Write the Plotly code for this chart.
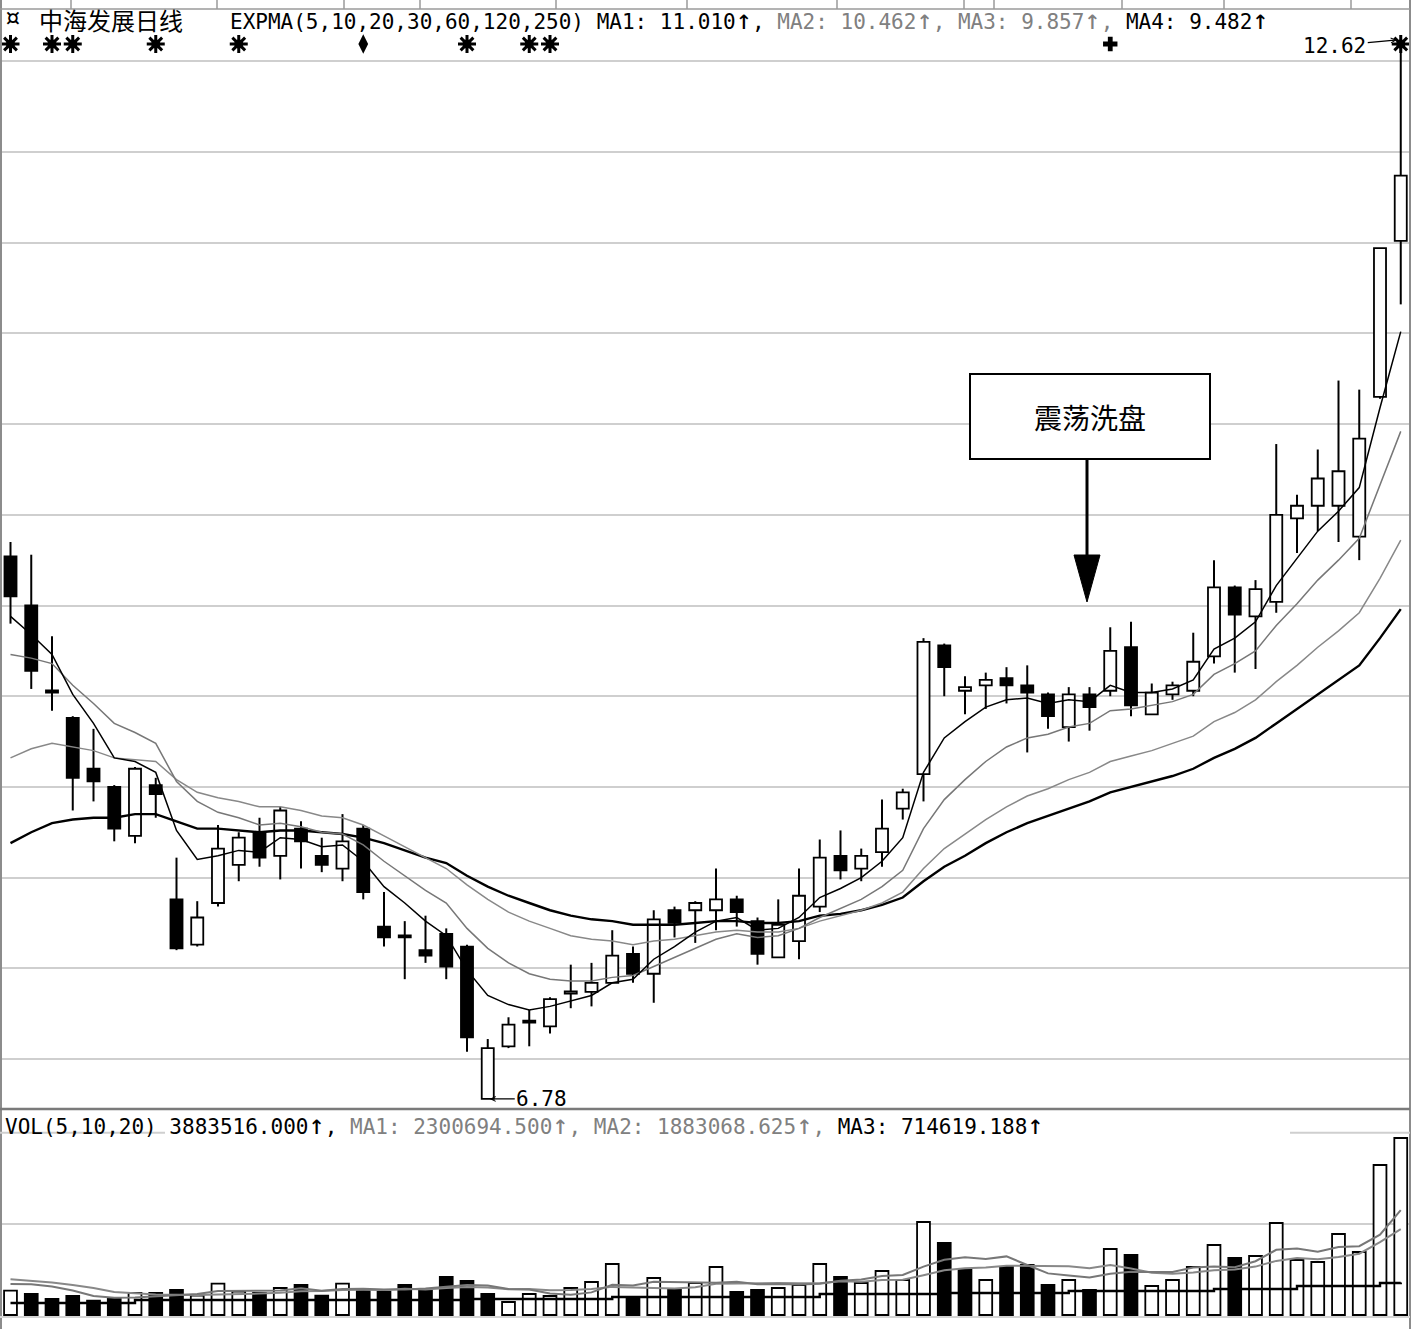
import plotly.graph_objects as go

# ---------------- data ----------------
opens = [9.77, 9.50, 9.03, 8.88, 8.60, 8.50, 8.23, 8.51, 7.88, 7.63,
         7.86, 8.07, 8.25, 8.12, 8.27, 8.12, 8.05, 8.27, 7.73, 7.68,
         7.60, 7.69, 7.62, 6.78, 7.07, 7.21, 7.18, 7.36, 7.37, 7.42,
         7.58, 7.47, 7.82, 7.82, 7.82, 7.88, 7.76, 7.56, 7.65, 7.84,
         8.12, 8.05, 8.14, 8.38, 8.57, 9.28, 9.03, 9.06, 9.10, 9.06,
         9.01, 8.83, 9.01, 9.03, 9.27, 8.90, 9.01, 9.03, 9.22, 9.60,
         9.44, 9.52, 9.98, 10.05, 10.05, 9.88, 10.65, 11.51]
highs = [9.85, 9.78, 9.33, 8.89, 8.82, 8.51, 8.61, 8.55, 8.11, 7.87,
         8.29, 8.25, 8.33, 8.39, 8.31, 8.22, 8.35, 8.29, 7.92, 7.76,
         7.79, 7.72, 7.63, 7.11, 7.23, 7.27, 7.34, 7.52, 7.53, 7.71,
         7.62, 7.82, 7.84, 7.87, 8.05, 7.90, 7.78, 7.88, 8.05, 8.21,
         8.26, 8.16, 8.43, 8.49, 9.32, 9.29, 9.11, 9.13, 9.16, 9.17,
         9.02, 9.05, 9.05, 9.38, 9.41, 9.07, 9.08, 9.35, 9.75, 9.61,
         9.64, 10.39, 10.11, 10.36, 10.74, 10.69, 11.47, 12.62]
lows = [9.40, 9.04, 8.92, 8.37, 8.42, 8.20, 8.19, 8.33, 7.60, 7.62,
        7.84, 7.98, 8.06, 7.99, 8.05, 8.03, 7.98, 7.88, 7.62, 7.44,
        7.53, 7.44, 7.04, 6.78, 7.06, 7.07, 7.14, 7.28, 7.29, 7.42,
        7.42, 7.31, 7.67, 7.64, 7.71, 7.73, 7.52, 7.56, 7.55, 7.81,
        7.99, 7.98, 8.06, 8.32, 8.42, 9.00, 8.90, 8.93, 8.96, 8.69,
        8.82, 8.75, 8.81, 9.00, 8.89, 8.90, 8.98, 9.00, 9.18, 9.13,
        9.15, 9.46, 9.79, 9.91, 9.85, 9.75, 10.64, 11.16]
closes = [9.55, 9.14, 9.02, 8.55, 8.53, 8.27, 8.60, 8.46, 7.61, 7.78,
          8.16, 8.22, 8.11, 8.37, 8.20, 8.07, 8.20, 7.92, 7.67, 7.67,
          7.57, 7.51, 7.12, 7.06, 7.19, 7.20, 7.33, 7.37, 7.42, 7.57,
          7.47, 7.77, 7.75, 7.86, 7.88, 7.81, 7.58, 7.74, 7.90, 8.11,
          8.04, 8.12, 8.27, 8.47, 9.30, 9.16, 9.05, 9.09, 9.06, 9.02,
          8.89, 9.01, 8.94, 9.25, 8.95, 9.02, 9.06, 9.19, 9.60, 9.45,
          9.59, 10.00, 10.05, 10.20, 10.24, 10.42, 11.47, 11.87]

expma5 = [9.44, 9.34, 9.23, 9.01, 8.85, 8.66, 8.64, 8.58, 8.26, 8.10,
          8.12, 8.15, 8.14, 8.22, 8.21, 8.17, 8.18, 8.09, 7.95, 7.86,
          7.76, 7.68, 7.49, 7.35, 7.30, 7.27, 7.29, 7.32, 7.35, 7.42,
          7.44, 7.55, 7.62, 7.70, 7.76, 7.78, 7.71, 7.72, 7.78, 7.89,
          7.94, 8.00, 8.09, 8.22, 8.58, 8.77, 8.86, 8.94, 8.98, 8.99,
          8.96, 8.98, 8.97, 9.06, 9.02, 9.02, 9.04, 9.09, 9.26, 9.32,
          9.41, 9.61, 9.76, 9.91, 10.02, 10.15, 10.59, 11.01]
expma10 = [9.23, 9.21, 9.18, 9.06, 8.96, 8.85, 8.80, 8.74, 8.53, 8.42,
           8.36, 8.33, 8.29, 8.30, 8.28, 8.25, 8.24, 8.18, 8.09, 8.01,
           7.93, 7.86, 7.72, 7.61, 7.53, 7.47, 7.44, 7.43, 7.43, 7.45,
           7.46, 7.51, 7.56, 7.61, 7.66, 7.69, 7.67, 7.68, 7.72, 7.78,
           7.83, 7.88, 7.95, 8.04, 8.27, 8.43, 8.54, 8.64, 8.72, 8.77,
           8.79, 8.83, 8.85, 8.92, 8.93, 8.95, 8.97, 9.01, 9.12, 9.18,
           9.25, 9.39, 9.51, 9.64, 9.75, 9.87, 10.16, 10.46]
expma20 = [8.66, 8.71, 8.74, 8.72, 8.70, 8.66, 8.65, 8.64, 8.54, 8.47,
           8.44, 8.42, 8.39, 8.39, 8.37, 8.34, 8.33, 8.29, 8.23, 8.17,
           8.11, 8.05, 7.96, 7.88, 7.81, 7.76, 7.72, 7.68, 7.66, 7.65,
           7.63, 7.65, 7.66, 7.68, 7.70, 7.71, 7.70, 7.70, 7.72, 7.76,
           7.79, 7.82, 7.86, 7.92, 8.05, 8.16, 8.24, 8.32, 8.39, 8.45,
           8.49, 8.54, 8.58, 8.64, 8.67, 8.70, 8.74, 8.78, 8.86, 8.91,
           8.98, 9.08, 9.17, 9.27, 9.36, 9.46, 9.65, 9.86]
expma30 = [8.19, 8.25, 8.30, 8.32, 8.33, 8.33, 8.35, 8.35, 8.31, 8.27,
           8.27, 8.26, 8.25, 8.26, 8.26, 8.25, 8.24, 8.22, 8.19, 8.15,
           8.11, 8.08, 8.01, 7.95, 7.90, 7.86, 7.82, 7.79, 7.77, 7.76,
           7.74, 7.74, 7.74, 7.75, 7.76, 7.76, 7.75, 7.75, 7.76, 7.79,
           7.80, 7.82, 7.85, 7.89, 7.98, 8.06, 8.12, 8.19, 8.25, 8.30,
           8.34, 8.38, 8.42, 8.47, 8.50, 8.53, 8.56, 8.60, 8.66, 8.71,
           8.77, 8.85, 8.93, 9.01, 9.09, 9.17, 9.32, 9.48]

# volume in units of 10,000 shares (万股)
volume_wan = [53.3, 46.1, 35.1, 41.7, 31.4, 35.1, 48.3, 48.3, 54.9, 42.3,
              68.7, 51.1, 48.3, 59.2, 65.8, 42.3, 68.7, 52.7, 51.1, 65.8,
              52.7, 83.4, 74.6, 46.1, 28.5, 46.1, 41.7, 59.2, 72.4, 111.9,
              39.5, 81.2, 57.0, 70.2, 105.3, 50.5, 54.9, 59.2, 65.8, 111.9,
              83.4, 70.2, 96.5, 76.8, 204.0, 158.0, 98.7, 76.8, 105.3, 109.7,
              65.8, 76.8, 54.9, 144.8, 131.6, 63.6, 76.8, 105.3, 153.6, 125.1,
              129.4, 201.8, 120.7, 116.3, 177.7, 138.2, 329.1, 388.35]
vol_up = [1, 0, 0, 0, 0, 0, 1, 0, 0, 1,
          1, 1, 0, 1, 0, 0, 1, 0, 0, 0,
          0, 0, 0, 0, 1, 1, 1, 1, 1, 1,
          0, 1, 0, 1, 1, 0, 0, 1, 1, 1,
          0, 1, 1, 1, 1, 0, 0, 1, 0, 0,
          0, 1, 0, 1, 0, 1, 1, 1, 1, 0,
          1, 1, 1, 1, 1, 1, 1, 1]
vol_ma1_wan = [68.0, 67.6, 62.5, 53.8, 41.5, 38.0, 38.4, 41.0, 43.7, 45.9,
               52.4, 53.1, 53.1, 54.0, 58.6, 53.3, 56.8, 57.7, 56.2, 56.2,
               58.1, 61.2, 65.6, 64.5, 57.0, 55.7, 47.4, 44.3, 49.6, 66.3,
               64.9, 72.8, 72.4, 72.0, 70.6, 72.8, 67.6, 68.0, 67.1, 68.5,
               75.0, 78.1, 85.6, 87.8, 106.2, 121.1, 126.8, 122.9, 128.6, 109.7,
               91.3, 86.9, 82.5, 90.4, 94.8, 94.3, 94.3, 104.4, 106.2, 104.9,
               118.0, 143.0, 146.1, 138.7, 149.2, 150.9, 176.4, 230.07]
vol_ma2_wan = [78.3, 74.6, 71.3, 65.8, 59.2, 50.5, 47.2, 45.0, 44.5, 43.7,
               45.2, 45.6, 47.0, 48.7, 52.2, 52.9, 55.1, 55.5, 55.1, 57.5,
               55.7, 59.0, 61.7, 60.3, 56.6, 57.0, 54.2, 54.9, 57.0, 61.7,
               60.3, 60.1, 58.4, 60.8, 68.5, 68.9, 70.2, 70.2, 69.5, 69.5,
               73.9, 72.8, 76.8, 77.4, 87.3, 98.1, 102.5, 104.2, 108.2, 107.9,
               106.2, 106.8, 102.7, 109.5, 102.2, 92.8, 90.6, 93.5, 98.3, 99.8,
               106.2, 118.7, 125.3, 122.4, 127.0, 134.5, 159.7, 188.31]
vol_ma3_wan = [26.3, 26.3, 26.3, 26.3, 26.3, 26.3, 32.9, 32.9, 32.9, 32.9,
               32.9, 32.9, 32.9, 32.9, 32.9, 32.9, 32.9, 32.9, 32.9, 32.9,
               32.9, 32.9, 35.1, 35.1, 35.1, 35.1, 35.1, 35.1, 35.1, 39.5,
               39.5, 39.5, 39.5, 39.5, 39.5, 39.5, 39.5, 39.5, 39.5, 46.1,
               46.1, 46.1, 46.1, 46.1, 46.1, 48.3, 48.3, 48.3, 48.3, 48.3,
               48.3, 52.7, 52.7, 52.7, 52.7, 52.7, 52.7, 52.7, 57.0, 57.0,
               57.0, 57.0, 63.6, 63.6, 63.6, 63.6, 70.2, 71.46]

star_signal_idx = [0, 2, 3, 7, 11, 22, 25, 26, 67]
diamond_signal_idx = [17]
cross_signal_idx = [53]
price_ticks = [7.0, 7.5, 8.0, 8.5, 9.0, 9.5, 10.0, 10.5, 11.0, 11.5, 12.0, 12.5]
vol_ticks = [200]

stock_title = "中海发展日线"
callout_text = "震荡洗盘"
low_label = "6.78"
high_label = "12.62"
low_idx = 23
high_idx = 67

# ---------------- layout geometry ----------------
W, H = 1415, 1329
MR = 5
PW = W - MR
STEP = 20.75
X0PX = 10.5
PRICE_PX = 181.4          # px per 1.0 of price
PRICE_REF, PRICE_REF_PX = 7.0, 1059
VOL_PX = 1 / 2.194        # px per 万股
VOL_ZERO_PX = 1315
PANEL_TOP, PANEL_SPLIT, PANEL_BOTTOM = 8, 1110, 1316


def xp(px):
    return px / PW


def yp(py):
    return 1 - py / H


def px_to_x(px):
    return (px - X0PX) / STEP


def py_to_price(py):
    return PRICE_REF + (PRICE_REF_PX - py) / PRICE_PX


GRID = "#cfcfcf"
MONO = "DejaVu Sans Mono, Liberation Mono, monospace"
CJK = "Noto Sans CJK SC, sans-serif"

n = len(closes)
idx = list(range(n))

fig = go.Figure()

# candle bodies
up_i = [i for i in idx if closes[i] > opens[i]]
dn_i = [i for i in idx if closes[i] <= opens[i]]
MIN_BODY = 0.012
fig.add_trace(go.Bar(
    x=up_i, base=[opens[i] for i in up_i],
    y=[max(closes[i] - opens[i], MIN_BODY) for i in up_i],
    width=0.58, marker=dict(color="white", line=dict(color="black", width=1.8)),
    xaxis="x", yaxis="y", hoverinfo="skip"))
fig.add_trace(go.Bar(
    x=dn_i, base=[closes[i] for i in dn_i],
    y=[max(opens[i] - closes[i], MIN_BODY) for i in dn_i],
    width=0.58, marker=dict(color="black", line=dict(color="black", width=1.8)),
    xaxis="x", yaxis="y", hoverinfo="skip"))

# volume bars
vu = [i for i in idx if vol_up[i]]
vd = [i for i in idx if not vol_up[i]]
fig.add_trace(go.Bar(
    x=vu, y=[volume_wan[i] for i in vu], width=0.62,
    marker=dict(color="white", line=dict(color="black", width=1.8)),
    xaxis="x", yaxis="y2", hoverinfo="skip"))
fig.add_trace(go.Bar(
    x=vd, y=[volume_wan[i] for i in vd], width=0.62,
    marker=dict(color="black", line=dict(color="black", width=1.8)),
    xaxis="x", yaxis="y2", hoverinfo="skip"))

# wicks (upper and lower separately so they never cross a body)
wx, wy = [], []
for i in idx:
    top = max(opens[i], closes[i])
    bot = min(opens[i], closes[i])
    if highs[i] > top:
        wx += [i, i, None]
        wy += [highs[i], top, None]
    if lows[i] < bot:
        wx += [i, i, None]
        wy += [bot, lows[i], None]
fig.add_trace(go.Scatter(x=wx, y=wy, mode="lines",
                         line=dict(color="black", width=2),
                         xaxis="x", yaxis="y", hoverinfo="skip"))

# EXPMA lines
fig.add_trace(go.Scatter(x=idx, y=expma30, mode="lines",
                         line=dict(color="black", width=2.4), yaxis="y"))
fig.add_trace(go.Scatter(x=idx, y=expma20, mode="lines",
                         line=dict(color="#888888", width=1.5), yaxis="y"))
fig.add_trace(go.Scatter(x=idx, y=expma10, mode="lines",
                         line=dict(color="#777777", width=1.5), yaxis="y"))
fig.add_trace(go.Scatter(x=idx, y=expma5, mode="lines",
                         line=dict(color="black", width=1.5), yaxis="y"))

# volume MA lines
fig.add_trace(go.Scatter(x=idx, y=vol_ma2_wan, mode="lines",
                         line=dict(color="#888888", width=2), yaxis="y2"))
fig.add_trace(go.Scatter(x=idx, y=vol_ma1_wan, mode="lines",
                         line=dict(color="#777777", width=2), yaxis="y2"))
fig.add_trace(go.Scatter(x=idx, y=vol_ma3_wan, mode="lines",
                         line=dict(color="black", width=2.4, shape="hv"), yaxis="y2"))

# signal markers row
SIG_PRICE = py_to_price(44)
fig.add_trace(go.Scatter(
    x=star_signal_idx, y=[SIG_PRICE] * len(star_signal_idx), mode="markers",
    marker=dict(symbol="asterisk-open", size=15, color="black",
                line=dict(color="black", width=3)), yaxis="y", cliponaxis=False))
fig.add_trace(go.Scatter(
    x=star_signal_idx, y=[SIG_PRICE] * len(star_signal_idx), mode="markers",
    marker=dict(symbol="circle", size=9, color="black"), yaxis="y", cliponaxis=False))
fig.add_trace(go.Scatter(
    x=diamond_signal_idx, y=[SIG_PRICE] * len(diamond_signal_idx), mode="markers",
    marker=dict(symbol="diamond-tall", size=14, color="black"), yaxis="y"))
fig.add_trace(go.Scatter(
    x=cross_signal_idx, y=[SIG_PRICE] * len(cross_signal_idx), mode="markers",
    marker=dict(symbol="cross", size=12, color="black"), yaxis="y"))

price_lo = py_to_price(PANEL_SPLIT)
price_hi = py_to_price(PANEL_TOP)
vol_lo = -(PANEL_BOTTOM - VOL_ZERO_PX) / VOL_PX
vol_hi = (VOL_ZERO_PX - PANEL_SPLIT) / VOL_PX

fig.update_layout(
    width=W, height=H,
    margin=dict(l=0, r=MR, t=0, b=0),
    paper_bgcolor="white", plot_bgcolor="white",
    showlegend=False, barmode="overlay",
    xaxis=dict(range=[px_to_x(0), px_to_x(PW)], showgrid=False, zeroline=False,
               showticklabels=False, ticks="", anchor="y2", showline=False),
    yaxis=dict(domain=[yp(PANEL_SPLIT), yp(PANEL_TOP)], range=[price_lo, price_hi],
               tickvals=price_ticks, showgrid=True, gridcolor=GRID, gridwidth=2,
               showticklabels=False, ticks="", zeroline=False, anchor="x"),
    yaxis2=dict(domain=[yp(PANEL_BOTTOM), yp(PANEL_SPLIT)], range=[vol_lo, vol_hi],
                tickvals=vol_ticks, showgrid=True, gridcolor=GRID, gridwidth=2,
                showticklabels=False, ticks="", zeroline=False, anchor="x"),
)

shapes = []
# frame lines
shapes.append(dict(type="line", xref="paper", yref="paper", x0=xp(1), x1=xp(1), y0=0, y1=1,
                   line=dict(color="#8c8c8c", width=2)))
shapes.append(dict(type="line", xref="paper", yref="paper", x0=1, x1=1, y0=0, y1=1,
                   line=dict(color="#8c8c8c", width=2)))
shapes.append(dict(type="line", xref="paper", yref="paper", x0=0, x1=1, y0=yp(9), y1=yp(9),
                   line=dict(color="#9a9a9a", width=1.5)))
shapes.append(dict(type="line", xref="paper", yref="paper", x0=0, x1=1,
                   y0=yp(PANEL_SPLIT - 1), y1=yp(PANEL_SPLIT - 1),
                   line=dict(color="#7a7a7a", width=2.5)))
shapes.append(dict(type="line", xref="paper", yref="paper", x0=0, x1=1,
                   y0=yp(PANEL_BOTTOM + 1), y1=yp(PANEL_BOTTOM + 1),
                   line=dict(color="#d4d4d4", width=2)))
# partially visible upper volume grid line
for a, b in [(0, 165), (1290, PW)]:
    shapes.append(dict(type="line", xref="paper", yref="y2", x0=xp(a), x1=xp(b),
                       y0=400, y1=400, line=dict(color=GRID, width=2)))
# small separators on the top border
for px in [71, 217, 344, 420, 556, 687, 837, 964, 994, 1122, 1224, 1351]:
    shapes.append(dict(type="line", xref="paper", yref="paper", x0=xp(px), x1=xp(px),
                       y0=yp(0), y1=yp(9), line=dict(color="#9a9a9a", width=1.5)))
# callout box and arrow
shapes.append(dict(type="rect", xref="x", yref="y",
                   x0=px_to_x(970), x1=px_to_x(1210),
                   y0=py_to_price(459), y1=py_to_price(374),
                   line=dict(color="black", width=2), fillcolor="white"))
ax_ = px_to_x(1087)
shapes.append(dict(type="line", xref="x", yref="y", x0=ax_, x1=ax_,
                   y0=py_to_price(459), y1=py_to_price(557),
                   line=dict(color="black", width=3)))
tri = "M {:.4f},{:.4f} L {:.4f},{:.4f} L {:.4f},{:.4f} Z".format(
    px_to_x(1074), py_to_price(555), px_to_x(1100), py_to_price(555),
    ax_, py_to_price(602))
shapes.append(dict(type="path", xref="x", yref="y", path=tri,
                   fillcolor="black", line=dict(color="black", width=1)))
fig.update_layout(shapes=shapes)

ARW = "<span style='font-size:27px'>↑</span>"
expma_header = ("EXPMA(5,10,20,30,60,120,250) MA1: 11.010" + ARW + ", "
                "<span style='color:#808080'>MA2: 10.462" + ARW + ", MA3: 9.857" + ARW + ", </span>"
                "MA4: 9.482" + ARW)
vol_header = ("VOL(5,10,20) 3883516.000" + ARW + ", "
              "<span style='color:#808080'>MA1: 2300694.500" + ARW + ", MA2: 1883068.625" + ARW + ", </span>"
              "MA3: 714619.188" + ARW)

annotations = [
    dict(text="¤", x=xp(12), y=yp(17), xref="paper", yref="paper", showarrow=False,
         font=dict(family=MONO, size=28, color="black"), xanchor="center", yanchor="middle"),
    dict(text=stock_title, x=xp(37), y=yp(20), xref="paper", yref="paper", showarrow=False,
         font=dict(family=CJK, size=24, color="black"), xanchor="left", yanchor="middle"),
    dict(text=expma_header, x=xp(228), y=yp(20), xref="paper", yref="paper", showarrow=False,
         font=dict(family=MONO, size=21, color="black"), xanchor="left", yanchor="middle"),
    dict(text=vol_header, x=xp(3), y=yp(1124), xref="paper", yref="paper", showarrow=False,
         font=dict(family=MONO, size=21, color="black"), xanchor="left", yanchor="middle"),
    dict(text=callout_text, x=px_to_x(1090), y=py_to_price(417), xref="x", yref="y",
         showarrow=False, font=dict(family=CJK, size=28, color="black"),
         xanchor="center", yanchor="middle"),
    dict(text=low_label, x=low_idx, y=lows[low_idx], xref="x", yref="y",
         showarrow=True, ax=54, ay=0, arrowhead=5, arrowsize=0.8, arrowwidth=1.2,
         arrowcolor="black", standoff=2,
         font=dict(family=MONO, size=21, color="black")),
    dict(text=high_label, x=high_idx, y=highs[high_idx], xref="x", yref="y",
         showarrow=True, ax=-66, ay=6, arrowhead=5, arrowsize=0.8, arrowwidth=1.2,
         arrowcolor="black", standoff=4,
         font=dict(family=MONO, size=21, color="black")),
]
fig.update_layout(annotations=annotations)

fig.write_html("out.html", config={"displayModeBar": False},
               post_script="document.body.style.margin='0px';document.body.style.overflow='hidden';")
